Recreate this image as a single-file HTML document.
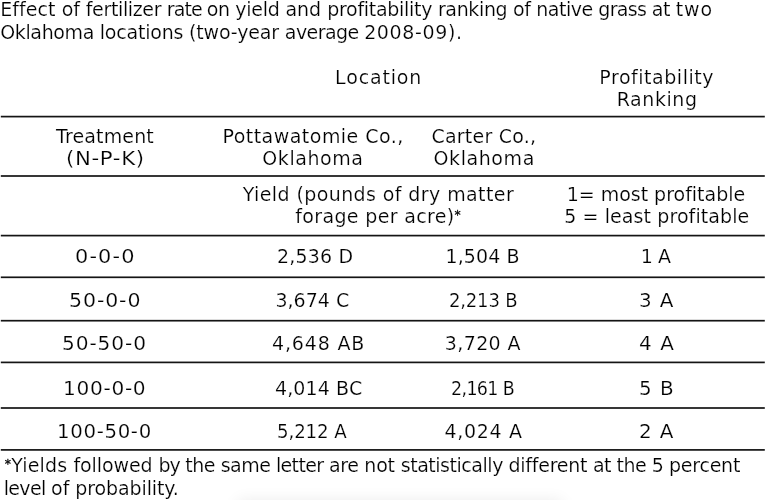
<!DOCTYPE html>
<html lang="en">
<head>
<meta charset="utf-8">
<title>Effect of fertilizer rate on yield and profitability ranking of native grass</title>
<style>
html,body{margin:0;padding:0;background:#fff;}
body{width:770px;height:500px;position:relative;overflow:hidden;font-family:"DejaVu Sans","Liberation Sans",sans-serif;font-size:19px;line-height:22px;color:#000;}
.t{position:absolute;white-space:nowrap;height:22px;margin:0;transform-origin:0 0;-webkit-text-stroke:0.2px #fff;}
.a{font-size:12.4px;position:relative;top:-4.5px;-webkit-text-stroke:0.3px #000;}
.rules{position:absolute;left:0;top:0;}
.shade{position:absolute;left:242px;top:505px;width:316px;height:10px;box-shadow:0 0 16px 4px rgba(0,0,0,.085);}
</style>
</head>
<body>
<svg class="rules" width="770" height="500" viewBox="0 0 770 500" aria-hidden="true">
<rect x="0.8" y="115.75" width="764" height="1.70" fill="#141414"/>
<rect x="0.8" y="175.15" width="764" height="1.70" fill="#141414"/>
<rect x="0.8" y="234.75" width="764" height="1.70" fill="#141414"/>
<rect x="0.8" y="276.45" width="764" height="1.70" fill="#141414"/>
<rect x="0.8" y="319.85" width="764" height="1.70" fill="#141414"/>
<rect x="0.8" y="361.55" width="764" height="1.70" fill="#141414"/>
<rect x="0.8" y="407.15" width="764" height="1.70" fill="#141414"/>
<rect x="0.8" y="449.05" width="764" height="1.70" fill="#141414"/>
</svg>
<div class="shade"></div>
<div class="t" id="i0" style="left:0.19px;top:-2px"><span class="w" style="letter-spacing:0.075px">Effect </span><span class="w" style="letter-spacing:-0.109px">of </span><span class="w" style="letter-spacing:-0.357px">fertilizer </span><span class="w" style="letter-spacing:-0.954px">rate </span><span class="w" style="letter-spacing:-0.422px">on </span><span class="w" style="letter-spacing:-0.226px">yield </span><span class="w" style="letter-spacing:0.002px">and </span><span class="w" style="letter-spacing:-0.292px">profitability </span><span class="w" style="letter-spacing:-0.351px">ranking </span><span class="w" style="letter-spacing:-0.382px">of </span><span class="w" style="letter-spacing:-0.469px">native </span><span class="w" style="letter-spacing:-0.679px">grass </span><span class="w" style="letter-spacing:-0.366px">at </span><span class="w" style="letter-spacing:0.913px">two</span></div>
<div class="t" id="i1" style="left:0.19px;top:21px"><span class="w" style="letter-spacing:-0.359px">Oklahoma </span><span class="w" style="letter-spacing:-0.201px">locations </span><span class="w" style="letter-spacing:-0.154px">(two-year </span><span class="w" style="letter-spacing:-0.564px">average </span><span class="w" style="letter-spacing:0.632px">2008-09).</span></div>
<div class="t" id="i2" style="left:335.07px;top:66px;letter-spacing:0.845px">Location</div>
<div class="t" id="i3" style="left:599.29px;top:66px;letter-spacing:0.539px">Profitability</div>
<div class="t" id="i4" style="left:616.67px;top:88px;letter-spacing:0.586px">Ranking</div>
<div class="t" id="i5" style="left:56.01px;top:125px;letter-spacing:0.140px">Treatment</div>
<div class="t" id="i6" style="left:66.20px;top:147px;letter-spacing:0.575px;transform:scaleX(1.1200)">(N-P-K)</div>
<div class="t" id="i7" style="left:222.43px;top:125px;letter-spacing:0.473px">Pottawatomie Co.,</div>
<div class="t" id="i8" style="left:262.28px;top:147px;letter-spacing:0.578px">Oklahoma</div>
<div class="t" id="i9" style="left:431.46px;top:125px;letter-spacing:0.227px">Carter Co.,</div>
<div class="t" id="i10" style="left:433.51px;top:147px;letter-spacing:0.587px">Oklahoma</div>
<div class="t" id="i11" style="left:242.71px;top:183px;letter-spacing:0.403px">Yield (pounds of dry matter</div>
<div class="t" id="i12" style="left:295.23px;top:205px;letter-spacing:0.351px">forage per acre)<span class="a">*</span></div>
<div class="t" id="i13" style="left:566.69px;top:183px;letter-spacing:-0.017px">1= most profitable</div>
<div class="t" id="i14" style="left:564.22px;top:205px;letter-spacing:0.094px">5 = least profitable</div>
<div class="t" id="i15" style="left:75.05px;top:245px;letter-spacing:1.015px;transform:scaleX(1.1000)">0-0-0</div>
<div class="t" id="i16" style="left:277.06px;top:245px;letter-spacing:0.158px">2,536 D</div>
<div class="t" id="i17" style="left:445.59px;top:245px;letter-spacing:0.084px">1,504 B</div>
<div class="t" id="i18" style="left:640.69px;top:245px;letter-spacing:-0.398px">1 A</div>
<div class="t" id="i19" style="left:68.87px;top:289px;letter-spacing:0.822px;transform:scaleX(1.0800)">50-0-0</div>
<div class="t" id="i20" style="left:275.48px;top:289px;letter-spacing:0.007px">3,674 C</div>
<div class="t" id="i21" style="left:449.39px;top:289px;letter-spacing:-0.214px;transform:scaleX(0.9500)">2,213 B</div>
<div class="t" id="i22" style="left:638.81px;top:289px;letter-spacing:0.777px;transform:scaleX(1.0500)">3 A</div>
<div class="t" id="i23" style="left:62.00px;top:332px;letter-spacing:0.842px;transform:scaleX(1.0600)">50-50-0</div>
<div class="t" id="i24" style="left:271.98px;top:332px;letter-spacing:0.847px">4,648 AB</div>
<div class="t" id="i25" style="left:444.79px;top:332px;letter-spacing:0.381px">3,720 A</div>
<div class="t" id="i26" style="left:639.01px;top:332px;letter-spacing:1.040px;transform:scaleX(1.0500)">4 A</div>
<div class="t" id="i27" style="left:62.96px;top:377px;letter-spacing:0.641px;transform:scaleX(1.0600)">100-0-0</div>
<div class="t" id="i28" style="left:275.01px;top:377px;letter-spacing:0.113px">4,014 BC</div>
<div class="t" id="i29" style="left:451.37px;top:377px;letter-spacing:-0.702px;transform:scaleX(0.9200)">2,161 B</div>
<div class="t" id="i30" style="left:639.39px;top:377px;letter-spacing:0.879px;transform:scaleX(1.0500)">5 B</div>
<div class="t" id="i31" style="left:57.38px;top:420px;letter-spacing:0.621px;transform:scaleX(1.0400)">100-50-0</div>
<div class="t" id="i32" style="left:276.64px;top:420px;letter-spacing:-0.136px;transform:scaleX(0.9600)">5,212 A</div>
<div class="t" id="i33" style="left:444.61px;top:420px;letter-spacing:0.642px">4,024 A</div>
<div class="t" id="i34" style="left:639.12px;top:420px;letter-spacing:0.805px;transform:scaleX(1.0500)">2 A</div>
<div class="t" id="i35" style="left:4.87px;top:454px"><span class="w" style="letter-spacing:0.158px"><span class="a">*</span>Yields </span><span class="w" style="letter-spacing:-0.107px">followed </span><span class="w" style="letter-spacing:-0.830px">by </span><span class="w" style="letter-spacing:-0.440px">the </span><span class="w" style="letter-spacing:-0.523px">same </span><span class="w" style="letter-spacing:-0.612px">letter </span><span class="w" style="letter-spacing:-0.366px">are </span><span class="w" style="letter-spacing:-0.194px">not </span><span class="w" style="letter-spacing:-0.462px">statistically </span><span class="w" style="letter-spacing:-0.254px">different </span><span class="w" style="letter-spacing:-0.520px">at </span><span class="w" style="letter-spacing:-0.503px">the </span><span class="w" style="letter-spacing:-0.455px">5 </span><span class="w" style="letter-spacing:-0.239px">percent</span></div>
<div class="t" id="i36" style="left:3.64px;top:477px"><span class="w" style="letter-spacing:-0.630px">level </span><span class="w" style="letter-spacing:-0.043px">of </span><span class="w" style="letter-spacing:-0.108px">probability.</span></div>
</body>
</html>
